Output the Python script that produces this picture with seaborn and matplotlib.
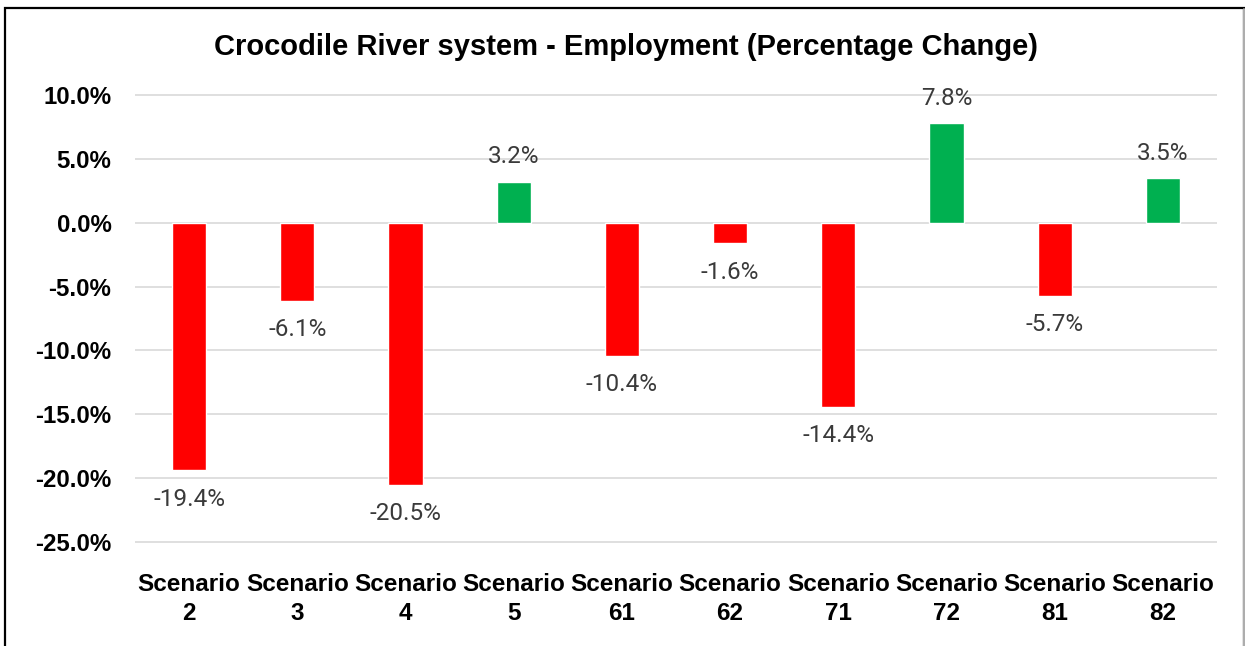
import matplotlib
matplotlib.use("Agg")
import matplotlib.pyplot as plt
import seaborn as sns
import pandas as pd
from matplotlib.patches import Rectangle
from matplotlib.ticker import FuncFormatter

categories = ["Scenario\n2", "Scenario\n3", "Scenario\n4", "Scenario\n5", "Scenario\n61",
              "Scenario\n62", "Scenario\n71", "Scenario\n72", "Scenario\n81", "Scenario\n82"]
values = [-19.4, -6.1, -20.5, 3.2, -10.4, -1.6, -14.4, 7.8, -5.7, 3.5]
yticks = [10, 5, 0, -5, -10, -15, -20, -25]
title = "Crocodile River system - Employment (Percentage Change)"

RED = "#FF0000"
GREEN = "#00B050"
colors = [GREEN if v >= 0 else RED for v in values]

sns.set_theme(style="white")
plt.rcParams['font.family'] = ['Liberation Sans', 'DejaVu Sans']

W, H = 1245, 646
fig = plt.figure(figsize=(W / 100, H / 100), dpi=100)
fig.patch.set_facecolor("white")

ymin, ymax = -26, 11
px_per = 447 / 35.0
top_px = 95 - (ymax - 10) * px_per
bot_px = 542 + (-25 - ymin) * px_per
ax = fig.add_axes([135 / W, 1 - bot_px / H, (1217 - 135) / W, (bot_px - top_px) / H])

df = pd.DataFrame({"cat": categories, "val": values})
sns.barplot(data=df, x="cat", y="val", hue="cat", palette=colors, legend=False,
            width=0.315, saturation=1, ax=ax, zorder=3)

ax.set_ylim(ymin, ymax)
ax.set_xlim(-0.5, len(categories) - 0.5)
ax.set_yticks(yticks)
ax.yaxis.set_major_formatter(FuncFormatter(lambda v, p: f"{v:.1f}%"))
ax.grid(axis="y", color="#D9D9D9", linewidth=1.2, zorder=0)
ax.grid(axis="x", visible=False)
for s in ax.spines.values():
    s.set_visible(False)
ax.tick_params(axis="y", length=0, pad=17, labelsize=17.3)
ax.tick_params(axis="x", length=0, pad=13, labelsize=17.5)
for lab in ax.get_yticklabels() + ax.get_xticklabels():
    lab.set_fontweight("bold")
    lab.set_color("black")
for lab in ax.get_xticklabels():
    lab.set_linespacing(1.32)
ax.set_xlabel("")
ax.set_ylabel("")

for i, v in enumerate(values):
    off = 25 if v >= 0 else -29
    ax.annotate(f"{v:.1f}%", xy=(i, v), xytext=(0, off), textcoords="offset pixels",
                ha="center", va="center", fontsize=17.5, color="#3A3A3A",
                family=["Roboto", "DejaVu Sans"], fontweight="normal")

fig.text(626 / W, 1 - 47 / H, title, ha="center", va="center", fontsize=21,
         fontweight="bold", color="black")

# border
fig.add_artist(Rectangle((5 / W, -0.05), (1244 - 5) / W, 1.05 - 8 / H,
                         transform=fig.transFigure, fill=False,
                         edgecolor="black", linewidth=1.6, zorder=10))
fig.add_artist(plt.Line2D([1244 / W, 1244 / W], [0, 1 - 9 / H], transform=fig.transFigure,
                          color="#D0D0D0", linewidth=1.2, zorder=11))

fig.savefig("out.png", dpi=100, facecolor="white")
